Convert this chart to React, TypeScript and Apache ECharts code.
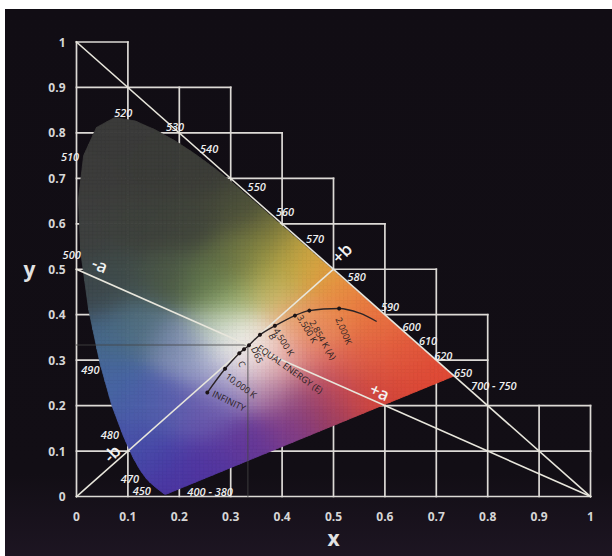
import React, { useEffect, useRef } from 'react';
import * as echarts from 'echarts';

// ---------- DATA ----------
// CIE 1931 spectral locus (nm, x, y)
const locusNm = [380, 420, 440, 450, 460, 465, 470, 475, 480, 485, 490, 495, 500, 505, 510, 515, 520, 525, 530, 535, 540, 545, 550, 555, 560, 565, 570, 575, 580, 585, 590, 595, 600, 605, 610, 620, 630, 640, 650, 700];
const locusX = [0.1741, 0.1714, 0.1644, 0.1566, 0.144, 0.1355, 0.1241, 0.1096, 0.0913, 0.0687, 0.0454, 0.0235, 0.0082, 0.0039, 0.0139, 0.0389, 0.0743, 0.1142, 0.1547, 0.1929, 0.2296, 0.2658, 0.3016, 0.3373, 0.3731, 0.4087, 0.4441, 0.4788, 0.5125, 0.5448, 0.5752, 0.6029, 0.627, 0.6482, 0.6658, 0.6915, 0.7079, 0.719, 0.726, 0.7347];
const locusY = [0.005, 0.0051, 0.0109, 0.0177, 0.0297, 0.0399, 0.0578, 0.0868, 0.1327, 0.2007, 0.295, 0.4127, 0.5384, 0.6548, 0.7502, 0.812, 0.8338, 0.8262, 0.8059, 0.7816, 0.7543, 0.7243, 0.6923, 0.6589, 0.6245, 0.5896, 0.5547, 0.5202, 0.4866, 0.4544, 0.4242, 0.3965, 0.3725, 0.3514, 0.334, 0.3083, 0.292, 0.2809, 0.274, 0.2653];

// staircase grid: top of each 0.1-wide column
const stairTops = [1.0, 0.9, 0.9, 0.8, 0.7, 0.6, 0.5, 0.4, 0.2, 0.2];
const tickLabels = ['0', '0.1', '0.2', '0.3', '0.4', '0.5', '0.6', '0.7', '0.8', '0.9', '1'];

// reference lines (x1, y1, x2, y2)
const refLines = [[0, 1, 1, 0], [0, 0.5, 1, 0], [0, 0, 0.5, 0.5]];
const thirdLines = [[0, 1 / 3, 1 / 3, 1 / 3], [1 / 3, 0, 1 / 3, 1 / 3]];

// wavelength labels
const wlText = ['520', '530', '540', '550', '560', '570', '580', '590', '600', '610', '620', '650', '700 - 750', '510', '500', '490', '480', '470', '450', '400 - 380'];
const wlX = [0.091, 0.1916, 0.258, 0.3506, 0.4056, 0.464, 0.545, 0.61, 0.652, 0.684, 0.7136, 0.752, 0.812, -0.0126, -0.0094, 0.027, 0.065, 0.104, 0.127, 0.26];
const wlY = [0.8454, 0.8145, 0.765, 0.6824, 0.627, 0.5687, 0.484, 0.418, 0.374, 0.343, 0.3095, 0.272, 0.245, 0.7485, 0.532, 0.2786, 0.1355, 0.04, 0.0143, 0.0106];

// opponent axis labels
const abText = ['-a', '+a', '-b', '+b'];
const abX = [0.0457, 0.59, 0.0685, 0.516];
const abY = [0.51, 0.231, 0.095, 0.5357];
const abRot = [-22, -24, 45, 45];

// blackbody (Planckian) locus
const planckX = [0.2545, 0.289, 0.3167, 0.326, 0.3356, 0.357, 0.386, 0.425, 0.453, 0.511, 0.551, 0.584];
const planckY = [0.2286, 0.281, 0.3154, 0.324, 0.333, 0.3557, 0.3755, 0.398, 0.409, 0.4137, 0.4035, 0.385];
const planckDot = [1, 1, 1, 1, 1, 1, 1, 1, 1, 1, 0, 0];

const ptText = ['INFINITY', '10,000 K', 'EQUAL ENERGY (E)', 'D65', 'C', 'B', '4,500 K', '3,500 K', '2,854 K (A)', '2,000K'];
const ptX = [0.2656, 0.2922, 0.3537, 0.352, 0.3224, 0.3817, 0.4037, 0.4494, 0.4796, 0.5204];
const ptY = [0.228, 0.2676, 0.33, 0.3116, 0.2918, 0.352, 0.3403, 0.369, 0.3447, 0.3645];
const ptRot = [-26, -36, -35, -66, -66, -66, -58, -60, -60, -67];
const ptAlign = ['left', 'left', 'left', 'center', 'center', 'center', 'center', 'center', 'center', 'center'];

// colour anchors of the printed horseshoe fill
const anchorX = [0.07, 0.03, 0.15, 0.25, 0.02, 0.12, 0.22, 0.32, 0.38, 0.44, 0.40, 0.47, 0.52, 0.56, 0.60, 0.66, 0.72, 0.62, 0.55, 0.48, 0.42, 0.38, 0.31, 0.25, 0.18, 0.08, 0.03, 0.333, 0.28, 0.37, 0.40, 0.46, 0.50, 0.56, 0.44, 0.38, 0.30, 0.25, 0.20, 0.12, 0.06, 0.07, 0.12, 0.18, 0.25, 0.11, 0.16, 0.20, 0.26, 0.34, 0.42, 0.50, 0.60, 0.68, 0.30, 0.35, 0.322, 0.345, 0.318];
const anchorY = [0.80, 0.70, 0.72, 0.72, 0.58, 0.60, 0.60, 0.63, 0.58, 0.54, 0.50, 0.50, 0.46, 0.42, 0.38, 0.32, 0.27, 0.28, 0.30, 0.38, 0.38, 0.44, 0.43, 0.46, 0.48, 0.48, 0.45, 0.333, 0.37, 0.30, 0.30, 0.30, 0.24, 0.22, 0.22, 0.24, 0.25, 0.30, 0.34, 0.38, 0.35, 0.25, 0.20, 0.20, 0.18, 0.12, 0.08, 0.03, 0.07, 0.12, 0.15, 0.18, 0.22, 0.25, 0.52, 0.52, 0.345, 0.322, 0.318];
const anchorColor = ['#3b3b3a', '#3c3c3b', '#3b3c39', '#3c3d38', '#3e403f', '#3e413c', '#40443b', '#4a4e3a', '#72723c', '#c8a840', '#b8aa48', '#e0a040', '#e89040', '#e87840', '#e66a40', '#e25a3c', '#de4a36', '#e0583e', '#e06448', '#e88a58', '#eca070', '#d0c070', '#90aa68', '#62784c', '#4a5646', '#404c4a', '#3c464c', '#fafaf4', '#b8ccb0', '#e8bcbc', '#e4a098', '#e07468', '#c44c5c', '#d04a44', '#8c4478', '#b080a8', '#9088c0', '#98a0c8', '#7888ac', '#52707e', '#46688c', '#4666a0', '#4a5ea8', '#5a60ae', '#6a58ac', '#4852a8', '#4842a8', '#4c34a0', '#5436a0', '#643898', '#803c88', '#983c60', '#d04038', '#dc4434', '#5c6844', '#8a8e44', '#f4f6ec', '#f8f0ec', '#eeeef4'];

// ---------- helpers ----------
const hexRgb = (h: string) => [parseInt(h.slice(1, 3), 16), parseInt(h.slice(3, 5), 16), parseInt(h.slice(5, 7), 16)];
const anchorRgb = anchorColor.map(hexRgb);
function colorAt(x: number, y: number) {
  const s = 0.04;
  let r = 0, g = 0, b = 0, ws = 0;
  for (let i = 0; i < anchorX.length; i++) {
    const dx = x - anchorX[i], dy = y - anchorY[i];
    const w = Math.exp(-(dx * dx + dy * dy) / (2 * s * s)) + 1e-30;
    r += w * anchorRgb[i][0]; g += w * anchorRgb[i][1]; b += w * anchorRgb[i][2]; ws += w;
  }
  return `rgb(${Math.round(r / ws)},${Math.round(g / ws)},${Math.round(b / ws)})`;
}

const locus = locusX.map((x, i) => [x, locusY[i]]);
let area = 0;
for (let i = 0; i < locus.length; i++) {
  const a = locus[i], b = locus[(i + 1) % locus.length];
  area += a[0] * b[1] - b[0] * a[1];
}
const orient = Math.sign(area);
const cross = (a: number[], b: number[], p: number[]) => orient * ((b[0] - a[0]) * (p[1] - a[1]) - (b[1] - a[1]) * (p[0] - a[0]));
function inter(p: number[], q: number[], a: number[], b: number[]) {
  const dx = q[0] - p[0], dy = q[1] - p[1], ex = b[0] - a[0], ey = b[1] - a[1];
  const den = dx * ey - dy * ex;
  const t = ((a[0] - p[0]) * ey - (a[1] - p[1]) * ex) / den;
  return [p[0] + t * dx, p[1] + t * dy];
}
function clipPoly(sub: number[][]) {
  let out = sub;
  for (let i = 0; i < locus.length && out.length; i++) {
    const a = locus[i], b = locus[(i + 1) % locus.length];
    const inp = out; out = [];
    for (let j = 0; j < inp.length; j++) {
      const cur = inp[j], prev = inp[(j + inp.length - 1) % inp.length];
      const ci = cross(a, b, cur) >= 0, pi = cross(a, b, prev) >= 0;
      if (ci) { if (!pi) out.push(inter(prev, cur, a, b)); out.push(cur); }
      else if (pi) out.push(inter(prev, cur, a, b));
    }
  }
  return out;
}

const cells: { pts: number[][]; color: string }[] = [];
const STEP = 0.008;
for (let x0 = 0; x0 < 0.74; x0 += STEP) {
  for (let y0 = 0; y0 < 0.84; y0 += STEP) {
    const sq = [[x0, y0], [x0 + STEP, y0], [x0 + STEP, y0 + STEP], [x0, y0 + STEP]];
    const pts = clipPoly(sq);
    if (pts.length >= 3) cells.push({ pts, color: colorAt(x0 + STEP / 2, y0 + STEP / 2) });
  }
}

const gridSegs: number[][] = [];
for (let k = 0; k <= 10; k++) {
  const top = Math.max(stairTops[k - 1] ?? 0, stairTops[k] ?? 0);
  gridSegs.push([k / 10, 0, k / 10, top]);
}
for (let j = 0; j <= 10; j++) {
  const y = j / 10;
  let maxC = -1;
  stairTops.forEach((t, c) => { if (t >= y - 1e-9) maxC = c; });
  gridSegs.push([0, y, (maxC + 1) / 10, y]);
}

const FONT = '"Open Sans", "Noto Sans", sans-serif';

const segSeries = (segs: number[][], color: string, width: number, z: number) => ({
  type: 'custom', coordinateSystem: 'cartesian2d', silent: true, clip: false, z,
  data: segs,
  encode: { x: [0, 2], y: [1, 3] },
  renderItem: (params: any, api: any) => {
    const p1 = api.coord([api.value(0), api.value(1)]);
    const p2 = api.coord([api.value(2), api.value(3)]);
    return { type: 'line', shape: { x1: p1[0], y1: p1[1], x2: p2[0], y2: p2[1] }, style: { stroke: color, lineWidth: width, lineCap: 'square' } };
  },
});

const textSeries = (xs: number[], ys: number[], texts: string[], rots: number[] | null, style: any, aligns: string[] | null, z: number) => ({
  type: 'custom', coordinateSystem: 'cartesian2d', silent: true, clip: false, z,
  data: xs.map((x, i) => [x, ys[i]]),
  renderItem: (params: any, api: any) => {
    const i = params.dataIndex;
    const p = api.coord([api.value(0), api.value(1)]);
    return {
      type: 'text', x: p[0], y: p[1], rotation: ((rots ? rots[i] : 0) * Math.PI) / 180,
      style: { ...style, text: texts[i], align: aligns ? aligns[i] : 'center', verticalAlign: 'middle' },
    };
  },
});

const axisCommon = {
  type: 'value', min: 0, max: 1, interval: 0.1,
  axisLine: { show: false }, axisTick: { show: false }, splitLine: { show: false },
  nameLocation: 'middle',
  nameTextStyle: { color: '#e2e2e2', fontSize: 21, fontWeight: 'bold', fontFamily: FONT },
};

const option = {
  animation: false,
  backgroundColor: 'transparent',
  grid: { left: 71.5, right: 21.5, top: 33, bottom: 59.5 },
  xAxis: {
    ...axisCommon, name: 'x', nameGap: 25,
    axisLabel: { color: '#d6d6d6', fontSize: 12, fontWeight: 'bold', fontFamily: FONT, margin: 14, formatter: (v: number) => tickLabels[Math.round(v * 10)] },
  },
  yAxis: {
    ...axisCommon, name: 'y', nameGap: 41, nameRotate: 0,
    axisLabel: { color: '#d6d6d6', fontSize: 12, fontWeight: 'bold', fontFamily: FONT, margin: 11, formatter: (v: number) => tickLabels[Math.round(v * 10)] },
  },
  series: [
    segSeries(gridSegs, '#dddad6', 1.7, 1),
    {
      type: 'custom', coordinateSystem: 'cartesian2d', silent: true, clip: false, z: 2,
      progressive: 0, progressiveThreshold: 100000,
      data: cells.map((c) => [c.pts[0][0], c.pts[0][1]]),
      renderItem: (params: any, api: any) => {
        const c = cells[params.dataIndex];
        return { type: 'polygon', shape: { points: c.pts.map((p) => api.coord(p)) }, style: { fill: c.color, stroke: c.color, lineWidth: 0.8 } };
      },
    },
    segSeries(thirdLines, 'rgba(70,70,70,0.55)', 1.5, 3),
    segSeries(refLines, '#e8e6dc', 1.6, 3),
    {
      type: 'line', z: 4, silent: true, smooth: 0.35,
      data: planckX.map((x, i) => ({ value: [x, planckY[i]], symbol: planckDot[i] ? 'circle' : 'none' })),
      symbolSize: 4,
      lineStyle: { color: '#2c2426', width: 1.4 },
      itemStyle: { color: '#1c1416' },
    },
    textSeries(wlX, wlY, wlText, null, { fill: '#eeeeee', fontSize: 11, fontStyle: 'italic', fontWeight: 600, fontFamily: FONT }, null, 5),
    textSeries(abX, abY, abText, abRot, { fill: '#f2f2f2', fontSize: 17, fontWeight: 600, fontFamily: FONT }, null, 5),
    textSeries(ptX, ptY, ptText, ptRot, { fill: '#2a1e22', fontSize: 9, fontFamily: FONT }, ptAlign, 5),
  ],
};

export default function App() {
  const ref = useRef<HTMLDivElement>(null);
  useEffect(() => {
    const chart = echarts.init(ref.current!, null, { renderer: 'svg' });
    chart.setOption(option as any);
    return () => chart.dispose();
  }, []);
  return (
    <div style={{ position: 'absolute', left: 5, top: 9, width: 607, height: 547, background: 'linear-gradient(#110d14 0%, #120e15 85%, #1d1522 100%)' }}>
      <div ref={ref} style={{ width: 607, height: 547 }} />
    </div>
  );
}
